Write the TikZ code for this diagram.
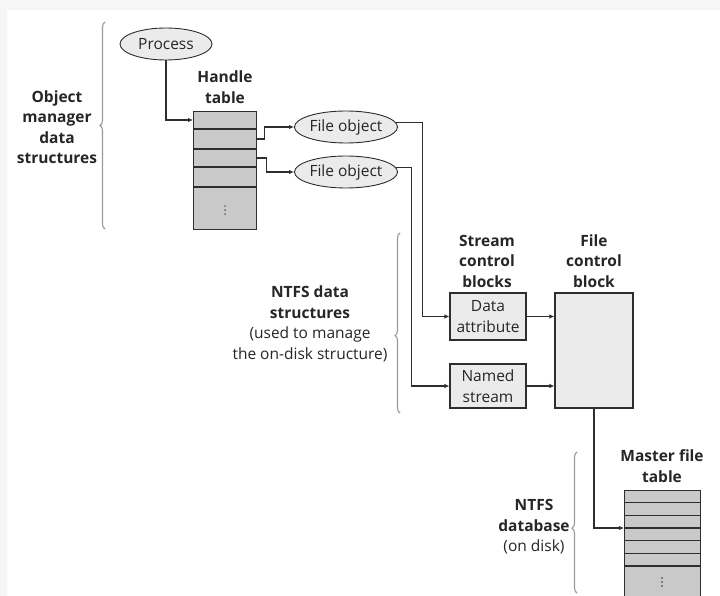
\documentclass[tikz,border=0pt]{standalone}
\usepackage{fontspec}
\setmainfont{Open Sans}
\usetikzlibrary{arrows.meta,decorations.pathreplacing,shapes.geometric,calc}
\definecolor{ln}{HTML}{2e2e2e}
\definecolor{txt}{HTML}{262626}
\definecolor{brc}{HTML}{9a9a9a}
\definecolor{bgg}{HTML}{F6F6F6}
\definecolor{tblfill}{HTML}{C9C9C9}
\definecolor{boxfill}{HTML}{EBEBEB}
\begin{document}
\begin{tikzpicture}[x=1pt,y=-1pt,
  every node/.style={font=\fontsize{15.5}{20.5}\selectfont, text=txt},
  ell/.style={ellipse, draw=ln, line width=0.9pt, fill=boxfill, inner sep=0pt},
  tbl/.style={rectangle, draw=ln, line width=1.1pt, fill=tblfill, inner sep=0pt},
  sbox/.style={rectangle, draw=ln, line width=1.1pt, fill=boxfill, inner sep=0pt, align=center},
  lbl/.style={align=center, inner sep=0pt, font=\fontsize{15.5}{20.5}\selectfont\bfseries},
  arr/.style={draw=ln, line width=1.2pt, -{Latex[length=5pt,width=4.5pt]}},
  brace/.style={draw=brc, line width=1.1pt, decorate},
  row/.style={draw=ln, line width=1.1pt},
  dot/.style={circle, fill=ln, inner sep=0pt, minimum size=1.6pt}]
\useasboundingbox (0,0) rectangle (720,596);
\fill[white] (0,0) rectangle (720,596);
\fill[bgg] (0,0) rectangle (720,10);
\fill[bgg] (0,10) rectangle (7,596);

% Object manager data structures
\draw[brace, decoration={brace, amplitude=5pt, aspect=0.5}] (105,229) -- (105,22);
\node[lbl] (oml) at (57,127) {Object\\manager\\data\\structures};

\node[ell, minimum width=92pt, minimum height=32pt] (proc) at (166,44) {Process};
\node[lbl] (htl) at (225,87) {Handle\\table};

\node[tbl, anchor=north west, minimum width=63pt, minimum height=118pt] (ht) at (193,111) {};
\foreach \d in {18,38,56,76}
  \draw[row] ([yshift=-\d pt]ht.north west) -- ([yshift=-\d pt]ht.north east);
\foreach \k in {-4,0,4}
  \node[dot] (htd\k) at ($(ht.south)+(0,-20+\k)$) {};

\node[ell, minimum width=102pt, minimum height=32pt] (fo1) at (346,127) {File object};
\node[ell, minimum width=102pt, minimum height=32pt] (fo2) at (346,172) {File object};

\draw[arr] (proc.south) |- ([yshift=-9pt]ht.north west);
\draw[arr] ([yshift=-28pt]ht.north east) -- ++(7,0) |- (fo1.west);
\draw[arr] ([yshift=-47pt]ht.north east) -- ++(9,0) |- (fo2.west);

% NTFS data structures
\draw[brace, decoration={brace, amplitude=5pt, aspect=0.43}] (400,413) -- (400,233);
\node[align=center, inner sep=0pt] (ndl) at (310,324) {\textbf{NTFS data}\\\textbf{structures}\\(used to manage\\the on-disk structure)};

\node[lbl] (scbl) at (487,261) {Stream\\control\\blocks};
\node[lbl] (fcbl) at (594,261) {File\\control\\block};

\node[sbox, minimum width=76pt, minimum height=47pt] (da) at (488,316.5) {Data\\attribute};
\node[sbox, minimum width=76pt, minimum height=44pt] (ns) at (488,386) {Named\\stream};
\node[sbox, minimum width=78pt, minimum height=115pt] (fcb) at (594,350.5) {};

\draw[arr] (fo1.5) -| ($(da.west)+(-27,0)$) -- (da.west);
\draw[arr] (fo2.5) -| ($(ns.west)+(-38,0)$) -- (ns.west);
\draw[arr] (da.east) -- (da.east -| fcb.west);
\draw[arr] (ns.east) -- (ns.east -| fcb.west);

% NTFS database
\draw[brace, decoration={brace, amplitude=5pt, aspect=0.46}] (577,593) -- (577,452);
\node[align=center, inner sep=0pt] (dbl) at (534,527) {\textbf{NTFS}\\\textbf{database}\\(on disk)};

\node[lbl] (mftl) at (662,466) {Master file\\table};
\node[tbl, anchor=north west, minimum width=76pt, minimum height=110pt] (mft) at (624,490) {};
\foreach \d in {12.7,25.3,38,50.7,63.3,76}
  \draw[row] ([yshift=-\d pt]mft.north west) -- ([yshift=-\d pt]mft.north east);
\foreach \k in {-4,0,4}
  \node[dot] (mftd\k) at (662,582+\k) {};

\draw[arr] (fcb.south) |- ([yshift=-38pt]mft.north west);
\end{tikzpicture}
\end{document}
